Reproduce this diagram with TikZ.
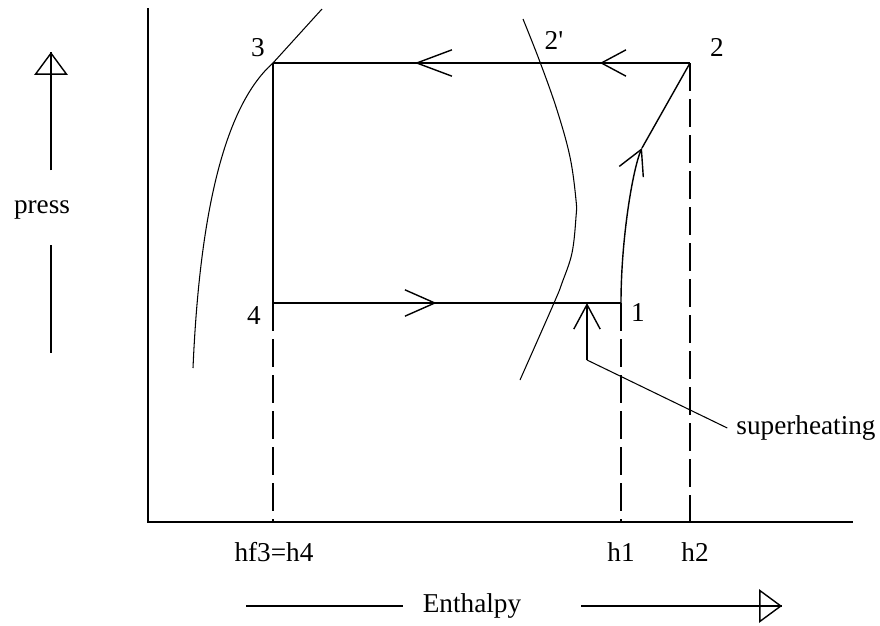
\documentclass[tikz,border=0pt]{standalone}
\usepackage{fontspec}
\setmainfont{Liberation Serif}[Ligatures=TeXOff]
\usetikzlibrary{arrows.meta, decorations.markings, calc}
\tikzset{
  baseline/.style={line width=0.8pt, color=black},
  satline/.style={line width=0.6pt, color=black},
  dashline/.style={baseline, dash pattern=on 16pt off 4.5pt},
  opentip/.style={baseline, -{Triangle[open, length=13pt, width=19pt]}, postaction={draw, -}},
  barbtip/.style={baseline, -{Straight Barb[length=#1, width=15pt]}},
  flowmark/.style args={#1 with #2}{postaction={decorate, decoration={markings,
      mark=at position #1 with {\arrow{Straight Barb[length=#2, width=15pt]}}}}},
  txt/.style={font=\fontsize{15.5}{18}\selectfont, inner sep=2pt}
}
\begin{document}
\begin{tikzpicture}[x=0.02cm, y=-0.02cm]
  \useasboundingbox (0,0) rectangle (880,626);

  % axes
  \coordinate (origin) at (148,522);
  \coordinate (ytop) at (148,8);
  \coordinate (xend) at (853,522);
  \draw[baseline] (ytop) -- (origin) -- (xend);

  % cycle points
  \coordinate (p1) at (621,303);
  \coordinate (p2) at (690,63);
  \coordinate (p3) at (273,63);
  \coordinate (p4) at (273,303);
  \coordinate (pm) at (642,148);

  \draw[baseline, flowmark=0.216 with 14pt, flowmark=0.66 with 20pt] (p2) -- (p3);
  \draw[baseline] (p3) -- (p4);
  \draw[baseline, flowmark=0.47 with 17pt] (p4) -- (p1);
  \draw[barbtip=14pt] (p1) .. controls (621,238) and (633,168) .. (pm);
  \draw[baseline] (pm) -- (p2);

  % projections
  \draw[dashline] (p4) -- (p4 |- origin);
  \draw[dashline] (p1) -- (p1 |- origin);
  \draw[dashline] (p2) -- (p2 |- origin);

  % saturation lines
  \draw[satline] (193,368) .. controls (199,230) and (220,110) .. (p3) -- (322,9);
  \draw[satline] plot[smooth, tension=0.6] coordinates
    {(523,19) (540,62) (557,110) (570,157) (576,200) (576,217) (572,253) (562,283) (554,303) (520,380)};

  % point labels
  \node[txt] (l1) at (638,313) {1};
  \node[txt] (l2) at (717,47) {2};
  \node[txt] (l2p) at (554,40) {2'};
  \node[txt] (l3) at (258,48) {3};
  \node[txt] (l4) at (254,316) {4};

  % enthalpy values
  \node[txt] (lh4) at (274,552) {hf3=h4};
  \node[txt] (lh1) at (621,552) {h1};
  \node[txt] (lh2) at (695,552) {h2};

  % superheating
  \coordinate (shtip) at (587,303);
  \coordinate (shk) at (587,360);
  \node[txt, inner sep=5pt] (shlabel) at (806,428) {superheating};
  \draw[barbtip=14pt] (shk) -- (shtip);
  \draw[satline] (shk) -- (shlabel.west);

  % axis captions
  \node[txt] (press) at (42,210) {press};
  \coordinate (pa) at (51,170);
  \coordinate (ptip) at (51,52);
  \coordinate (pb) at (51,245);
  \coordinate (pc) at (51,353);
  \draw[opentip] (pa) -- (ptip);
  \draw[baseline] (pb) -- (pc);

  \node[txt] (enth) at (472,606) {Enthalpy};
  \coordinate (ea) at (246,606);
  \coordinate (eb) at (403,606);
  \coordinate (ec) at (581,606);
  \coordinate (etip) at (782,606);
  \draw[baseline] (ea) -- (eb);
  \draw[opentip] (ec) -- (etip);
\end{tikzpicture}
\end{document}
